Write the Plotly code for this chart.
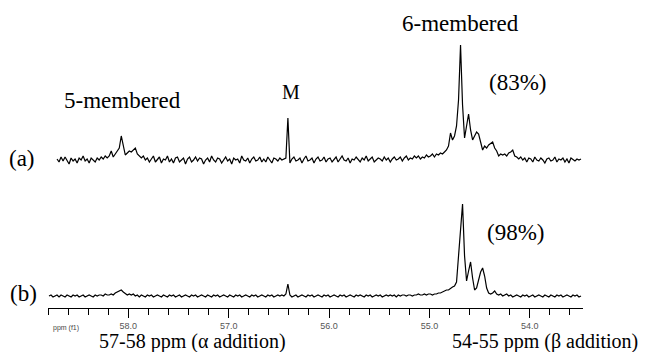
import numpy as np
import plotly.graph_objects as go

# ---- data (heights, arbitrary intensity units) ----
ppm_start_a = 58.71
ppm_start_b = 58.79
ppm_step = 0.02

intensity_a = [
    1, -2, 3, -1, 3, 0, -4, 2, -1, 1,
    -3, 2, 0, 4, -1, 1, -3, 2, 0, -2,
    2, 0, 3, 1, 4, 2, 4, 9, 3, 6,
    8, 12, 24, 14, 5, 7, 9, 8, 10, 12,
    6, 4, 2, 4, 0, 2, -2, 1, 4, -2,
    0, 3, -3, 1, 0, 4, -2, 1, -3, 2,
    3, -2, 0, 2, -4, 1, 3, -2, 0, 3,
    -1, 2, 1, -4, 0, 2, -2, 4, 0, -2,
    2, 1, -3, 0, 3, -1, 1, -4, 2, 0,
    1, -3, 4, 0, -1, 2, -3, 1, 3, -1,
    0, 3, -2, 1, -2, 3, 0, -3, 2, 1,
    -1, 2, 0, 1, 2, 42, -3, 1, 3, -1,
    0, 2, -3, 1, 4, -1, 0, 2, -3, 1,
    3, -1, 0, 3, -2, 1, 2, -2, 0, 3,
    -2, 1, 4, 0, -1, 2, -3, 1, 0, 3,
    1, -2, 2, 0, 4, -1, 1, 3, -2, 0,
    2, 1, -1, 3, 0, 2, -2, 1, 3, 0,
    1, 3, -1, 2, 4, 0, 2, 1, 4, 2,
    4, 1, 3, 2, 5, 3, 4, 6, 3, 6,
    5, 7, 6, 8, 10, 14, 27, 20, 24, 34,
    60, 115, 55, 22, 34, 46, 30, 20, 24, 28,
    26, 17, 10, 14, 12, 15, 17, 18, 12, 9,
    4, 6, 5, 6, 4, 7, 8, 10, 4, 3,
    1, 3, 0, 2, -2, 2, 1, -2, 3, 0,
    -1, 2, 0, -3, 1, 2, -1, 0, 3, -2,
    1, 0, 2, -2, 1, -3, 2, 0, -1, 1,
    0, 1,
]

intensity_b = [
    0, 1, -1, 0, 1, -1, 1, 0, -1, 1,
    0, -1, 1, 0, 1, -1, 0, 1, -1, 0,
    1, 0, -1, 1, 0, 1, 1, 0, 2, 1,
    1, 2, 1, 3, 4, 5, 6, 4, 2, 1,
    2, 1, 2, 0, 1, -1, 1, 0, -1, 1,
    0, 1, -1, 0, 1, 0, -1, 1, 0, -1,
    1, 0, 1, -1, 0, 1, -1, 0, 1, 0,
    -1, 1, 0, 1, -1, 0, 1, 0, -1, 1,
    0, -1, 1, 0, 1, -1, 0, 1, 0, -1,
    1, 0, -1, 1, 0, 1, -1, 0, 1, 0,
    -1, 1, 0, 1, -1, 0, 1, 0, -1, 1,
    0, 1, -1, 0, 1, 0, 1, 0, 2, 12,
    1, -1, 0, 1, -1, 0, 1, 0, -1, 1,
    0, 1, -1, 0, 1, 0, -1, 1, 0, 1,
    -1, 0, 1, 0, -1, 1, 0, 1, -1, 0,
    1, 0, -1, 1, 0, 1, 0, -1, 1, 0,
    1, -1, 0, 1, 0, 1, -1, 0, 1, 0,
    1, 0, 1, -1, 1, 0, 1, 1, 0, 1,
    1, 0, 1, 1, 2, 1, 1, 2, 1, 2,
    2, 1, 2, 2, 3, 3, 4, 5, 6, 6,
    8, 9, 10, 14, 40, 70, 92, 40, 15, 25,
    34, 18, 6, 8, 15, 24, 28, 20, 8, 3,
    2, 3, 5, 2, 1, 2, 0, 1, 2, 0,
    1, -1, 0, 1, 0, -1, 1, 0, 1, -1,
    0, 1, -1, 0, 1, 0, -1, 1, 0, -1,
    1, 0, -1, 1, 0, 1, -1, 0, 1, 0,
    -1, 1, 0, 1, -1, 0,
]

x_major_ticks = [58.0, 57.0, 56.0, 55.0, 54.0]
x_tick_labels = ["58.0", "57.0", "56.0", "55.0", "54.0"]

ppm_a = ppm_start_a - ppm_step * np.arange(len(intensity_a))
ppm_b = ppm_start_b - ppm_step * np.arange(len(intensity_b))

# ---- figure ----
W, H = 654, 352
L, R, T, B = 48, 71, 0, 44
pw, ph = W - L - R, H - T - B


def px(xp):
    return (xp - L) / pw


def py(yp):
    return (H - B - yp) / ph


fig = go.Figure()
fig.add_trace(go.Scatter(x=ppm_a, y=intensity_a, xaxis="x", yaxis="y2", mode="lines",
                         line=dict(color="black", width=1.2), showlegend=False,
                         hoverinfo="skip"))
fig.add_trace(go.Scatter(x=ppm_b, y=intensity_b, xaxis="x", yaxis="y", mode="lines",
                         line=dict(color="black", width=1.2), showlegend=False,
                         hoverinfo="skip"))

serif = "Liberation Serif, Times New Roman, serif"
sans = "Liberation Sans, Arial, sans-serif"

annots = [
    ("5-membered", 122, 100, 23, serif, "black"),
    ("M", 291, 92, 20, serif, "black"),
    ("6-membered", 460, 23, 23, serif, "black"),
    ("(83%)", 517, 82, 23, serif, "black"),
    ("(98%)", 515, 232, 23, serif, "black"),
    ("(a)", 22, 158, 23, serif, "black"),
    ("(b)", 23, 293, 23, serif, "black"),
    ("ppm (f1)", 66, 328, 7, sans, "#444"),
    ("57-58 ppm (\u03b1 addition)", 192, 341, 20, serif, "black"),
    ("54-55 ppm (\u03b2 addition)", 545, 341, 20, serif, "black"),
]
for text, x0, y0, size, fam, col in annots:
    fig.add_annotation(text=text, x=px(x0), y=py(y0), xref="paper", yref="paper",
                       xanchor="center", yanchor="middle", showarrow=False,
                       font=dict(size=size, family=fam, color=col))

fig.update_layout(
    width=W, height=H,
    margin=dict(l=L, r=R, t=T, b=B, pad=0),
    paper_bgcolor="white", plot_bgcolor="white",
    xaxis=dict(range=[58.80, 53.47], showline=True, linecolor="black", linewidth=1,
               ticks="outside", ticklen=9, tickwidth=1, tickcolor="black",
               tickvals=x_major_ticks, ticktext=x_tick_labels,
               tickfont=dict(size=9, family=sans, color="#555"),
               minor=dict(ticks="outside", ticklen=6, tickwidth=1, tickcolor="black",
                          dtick=0.2, tick0=54),
               showgrid=False, zeroline=False, anchor="y"),
    yaxis=dict(domain=[0.0, 0.3961], range=[-12, 110], visible=False, fixedrange=True),
    yaxis2=dict(domain=[0.4156, 0.9351], range=[-20, 140], visible=False, anchor="x",
                fixedrange=True),
)

fig.write_html("out.html",
               config={"displayModeBar": False, "staticPlot": True},
               post_script="document.body.style.margin='0';document.body.style.overflow='hidden';")
